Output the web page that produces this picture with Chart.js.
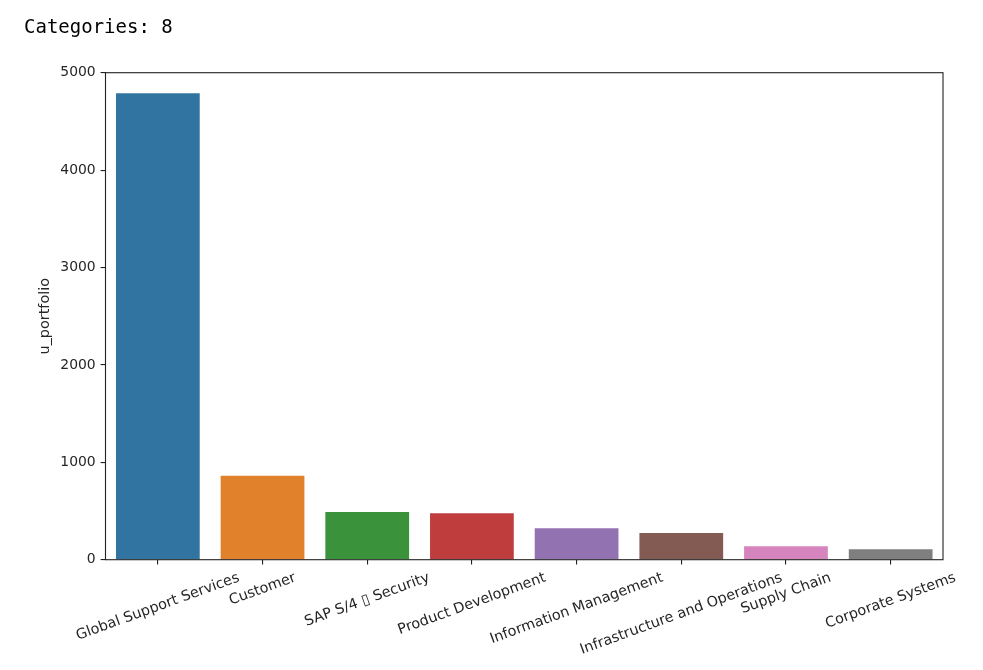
<!DOCTYPE html>
<html>
<head>
<meta charset="utf-8">
<script src="https://cdn.jsdelivr.net/npm/chart.js@4/dist/chart.umd.min.js"></script>
<style>
  html, body { margin: 0; padding: 0; background: #fff; }
  #wrap { position: relative; width: 983px; height: 670px; }
  #title { position: absolute; left: 24px; top: 14.7px; font-family: "DejaVu Sans Mono", monospace; font-size: 19px; line-height: normal; color: #000; white-space: pre; }
  canvas { position: absolute; left: 0; top: 0; }
</style>
</head>
<body>
<div id="wrap">
  <canvas id="c" width="983" height="670"></canvas>
  <div id="title">Categories: 8</div>
</div>
<script>
const categories = ["Global Support Services", "Customer", "SAP S/4 \u25AF Security", "Product Development", "Information Management", "Infrastructure and Operations", "Supply Chain", "Corporate Systems"];
const values = [4788, 862, 490, 476, 322, 274, 138, 107];
const colors = ["#3274a1", "#e1812c", "#3a923a", "#c03d3e", "#9372b2", "#845b53", "#d684bd", "#7f7f7f"];
const yTicks = [0, 1000, 2000, 3000, 4000, 5000];
const yLabel = "u_portfolio";

const FONT = "DejaVu Sans";
const FS = 13.9;
const XFS = 14.4;
const TICK = 4.9;
const PAD = 4.9;
const TXT = "#262626";

const framePlugin = {
  id: 'frame',
  afterDraw(chart) {
    const {ctx, chartArea: a} = chart;
    const xs = chart.scales.x;
    ctx.save();
    ctx.strokeStyle = "#222";
    ctx.lineWidth = 1.1;
    ctx.strokeRect(a.left, a.top, a.right - a.left, a.bottom - a.top);
    // rotated x labels, centered at tick (matplotlib style)
    const ang = 20 * Math.PI / 180;
    ctx.font = XFS + "px '" + FONT + "'";
    ctx.fillStyle = TXT;
    ctx.textAlign = "center";
    ctx.textBaseline = "middle";
    const h = XFS * 1.16;
    categories.forEach((lab, i) => {
      const x = xs.getPixelForValue(i);
      const w = ctx.measureText(lab).width;
      const H = w * Math.sin(ang) + h * Math.cos(ang);
      const top = a.bottom + TICK + PAD;
      ctx.save();
      ctx.translate(x, top + H / 2);
      ctx.rotate(-ang);
      ctx.fillText(lab, 0, 0);
      ctx.restore();
    });
    ctx.restore();
  }
};

new Chart(document.getElementById('c'), {
  type: 'bar',
  data: {
    labels: categories,
    datasets: [{
      data: values,
      backgroundColor: colors,
      borderWidth: 0,
      categoryPercentage: 0.8,
      barPercentage: 1.0
    }]
  },
  options: {
    responsive: false,
    animation: false,
    devicePixelRatio: 1,
    layout: { padding: { top: 72.7, right: 40, left: 0, bottom: 0 } },
    plugins: { legend: { display: false }, tooltip: { enabled: false } },
    scales: {
      x: {
        type: 'category',
        offset: true,
        border: { display: false },
        grid: { display: true, drawOnChartArea: false, drawTicks: true, tickLength: TICK, offset: false, color: "#222", lineWidth: 1.1 },
        ticks: { display: false },
        afterFit(s) { s.height = 670 - 559.7; }
      },
      y: {
        min: 0,
        max: 5000,
        border: { display: false },
        grid: { display: true, drawOnChartArea: false, drawTicks: true, tickLength: TICK, color: "#222", lineWidth: 1.1 },
        afterBuildTicks(s) { s.ticks = yTicks.map(v => ({ value: v })); },
        ticks: {
          padding: PAD,
          color: TXT,
          font: { family: FONT, size: FS },
          callback: (v) => String(v)
        },
        title: {
          display: true,
          text: yLabel,
          color: TXT,
          font: { family: FONT, size: 14.4 },
          padding: { top: 36.5, bottom: 0 }
        },
        afterFit(s) { s.width = 105.5; }
      }
    }
  },
  plugins: [framePlugin]
});
</script>
</body>
</html>
